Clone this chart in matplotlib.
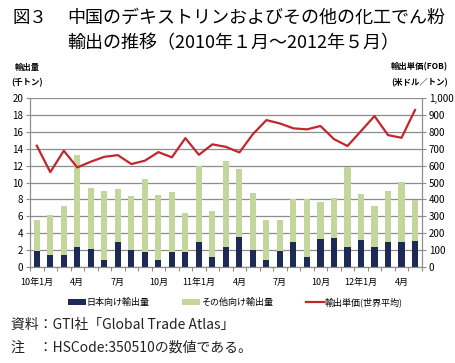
import numpy as np
import matplotlib.pyplot as plt

plt.rcParams['font.family'] = ['Noto Sans CJK JP', 'DejaVu Sans']

# data (Jan 2010 - May 2012), thousand tons / USD per ton
japan = [1.9, 1.4, 1.4, 2.3, 2.1, 0.8, 3.0, 2.0, 1.8, 0.8, 1.7, 1.7, 2.9, 1.2, 2.4,
         3.5, 2.0, 0.8, 1.9, 3.0, 1.2, 3.3, 3.4, 2.3, 3.2, 2.3, 3.0, 3.0, 3.1]
total = [5.6, 6.1, 7.2, 13.3, 9.4, 9.0, 9.2, 8.4, 10.4, 8.5, 8.9, 6.4, 12.0, 6.6, 12.6,
         11.6, 8.8, 5.5, 5.6, 8.0, 8.0, 7.7, 8.2, 11.8, 8.7, 7.2, 9.0, 10.1, 7.9]
price = [719, 562, 689, 590, 624, 653, 663, 610, 630, 681, 650, 764, 665, 727, 712,
         679, 788, 871, 851, 822, 816, 836, 758, 717, 806, 895, 782, 766, 931]
xlabels = ['10年1月', '4月', '7月', '10月', '11年1月', '4月', '7月', '10月', '12年1月', '4月']

others = np.array(total) - np.array(japan)
x = np.arange(len(japan))

fig = plt.figure(figsize=(4.55, 3.63), dpi=100)
ax = fig.add_axes([0.066, 0.265, 0.861, 0.464])
ax2 = ax.twinx()

navy = '#1c2a55'
green = '#c3d69b'
red = '#c1272d'

ax.set_axisbelow(True)
ax.yaxis.grid(True, color='#8c8c8c', lw=0.9)
b1 = ax.bar(x, japan, width=0.45, color=navy, label='日本向け輸出量')
b2 = ax.bar(x, others, width=0.45, bottom=japan, color=green, label='その他向け輸出量')
l1, = ax2.plot(x, price, color=red, lw=1.6, label='輸出単価(世界平均)')

ax.set_xlim(-0.5, len(x) - 0.5)
ax.set_ylim(0, 20)
ax.set_yticks(range(0, 21, 2))
ax2.set_ylim(0, 1000)
ax2.set_yticks(range(0, 1001, 100))
ax2.set_yticklabels([f'{v:,}' for v in range(0, 1001, 100)])

ax.set_xticks(np.arange(-0.5, len(x), 1))
ax.set_xticklabels([])
ax.set_xticks(x[::3], minor=True)
ax.set_xticklabels(xlabels, minor=True)
ax.tick_params(axis='x', which='major', length=3, color='#8c8c8c', direction='out')
ax.tick_params(axis='x', which='minor', length=0, labelsize=6.5, pad=8)
ax.tick_params(axis='y', length=3, color='#8c8c8c', labelsize=7, pad=2)
ax2.tick_params(axis='y', length=3, color='#8c8c8c', labelsize=7, pad=2)

for a in (ax, ax2):
    for s in a.spines.values():
        s.set_color('#8c8c8c')
    a.spines['top'].set_visible(False)

fig.text(0.027, 0.95, '図３', fontsize=12.5, va='center')
fig.text(0.147, 0.95, '中国のデキストリンおよびその他の化工でん粉', fontsize=13, va='center')
fig.text(0.147, 0.882, '輸出の推移（2010年１月～2012年５月）', fontsize=13, va='center')

fig.text(0.06, 0.815, '輸出量', fontsize=6, ha='center', va='center', weight='bold')
fig.text(0.06, 0.772, '(千トン)', fontsize=6, ha='center', va='center', weight='bold')
fig.text(0.985, 0.815, '輸出単価(FOB)', fontsize=6, ha='right', va='center', weight='bold')
fig.text(0.985, 0.772, '(米ドル／トン)', fontsize=6, ha='right', va='center', weight='bold')

fig.legend(handles=[b1, b2, l1], loc='center', bbox_to_anchor=(0.517, 0.168), ncol=3,
           frameon=False, fontsize=6.5, handlelength=2.0, handleheight=0.6,
           handletextpad=0.1, columnspacing=3.6)

fig.text(0.025, 0.105, '資料：GTI社「Global Trade Atlas」', fontsize=10, va='center', color='#222222')
fig.text(0.025, 0.043, '注　：HSCode:350510の数値である。', fontsize=10, va='center', color='#222222')

fig.savefig('out.png', dpi=100)
